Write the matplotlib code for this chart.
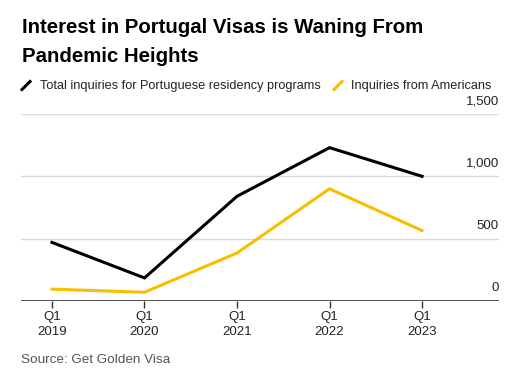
import matplotlib.pyplot as plt
from matplotlib.lines import Line2D

# datos
quarters = ["Q1\n2019", "Q1\n2020", "Q1\n2021", "Q1\n2022", "Q1\n2023"]
total = [470, 185, 840, 1230, 1000]
americans = [95, 70, 385, 900, 565]
yticks = [0, 500, 1000, 1500]
ytick_labels = ["0", "500", "1,000", "1,500"]

black = "#000000"
yellow = "#F7BF00"
plt.rcParams['font.family'] = ['Liberation Sans', 'DejaVu Sans']

fig = plt.figure(figsize=(5.08, 3.77), dpi=100)
ax = fig.add_axes([0.0413, 0.2016, 0.9407, 0.496])

x = list(range(len(quarters)))
ax.plot(x, total, color=black, lw=2.2, solid_joinstyle="miter")
ax.plot(x, americans, color=yellow, lw=2.2, solid_joinstyle="miter")

ax.set_xlim(-0.335, 4.83)
ax.set_ylim(0, 1500)

# gridlines horizontales
for v in yticks[1:]:
    ax.axhline(v, color="#d9d9d9", lw=1, zorder=0)
ax.axhline(0, color="#333333", lw=1.2, zorder=3)

for v, lab in zip(yticks, ytick_labels):
    ax.annotate(lab, xy=(1.0, v), xycoords=("axes fraction", "data"),
                xytext=(0, 5), textcoords="offset points",
                ha="right", va="bottom", fontsize=9.5, color="#222222")

ax.set_xticks(x)
ax.set_xticklabels(quarters, fontsize=9.5, color="#222222", linespacing=1.35)
ax.tick_params(axis="x", length=5, width=1, color="#333333", pad=2)
ax.set_yticks([])
for s in ax.spines.values():
    s.set_visible(False)

# titulo
fig.text(0.043, 0.952, "Interest in Portugal Visas is Waning From\nPandemic Heights",
         fontsize=14.7, fontweight="bold", va="top", ha="left", linespacing=1.65)

# leyenda
fig.add_artist(Line2D([22 / 508, 30 / 508], [1 - 89.5 / 377, 1 - 81.5 / 377],
                      color=black, lw=2.2, transform=fig.transFigure))
fig.text(40 / 508, 1 - 85.5 / 377, "Total inquiries for Portuguese residency programs",
         fontsize=9.2, va="center", ha="left", color="#222222")
fig.add_artist(Line2D([334 / 508, 342 / 508], [1 - 89.5 / 377, 1 - 81.5 / 377],
                      color=yellow, lw=2.2, transform=fig.transFigure))
fig.text(351 / 508, 1 - 85.5 / 377, "Inquiries from Americans",
         fontsize=9.2, va="center", ha="left", color="#222222")

# fuente
fig.text(21 / 508, 1 - 360 / 377, "Source: Get Golden Visa", fontsize=9.7,
         va="center", ha="left", color="#555555")

fig.savefig("out.png", dpi=100)
